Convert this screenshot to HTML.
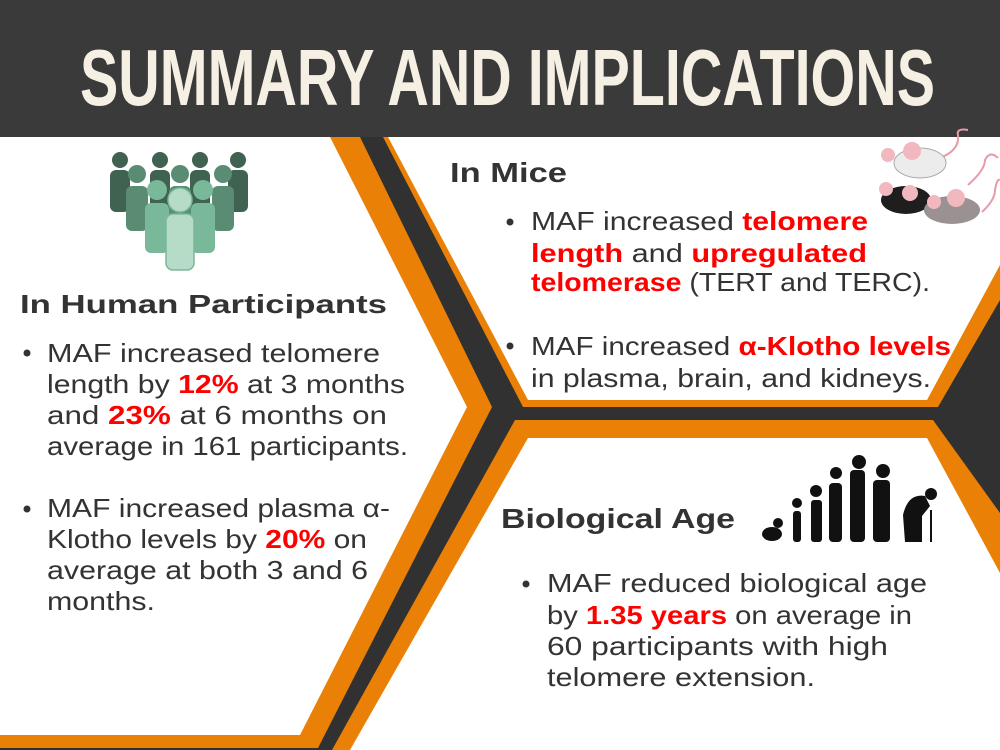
<!DOCTYPE html>
<html><head><meta charset="utf-8"><style>
html,body{margin:0;padding:0;width:1000px;height:750px;overflow:hidden;background:#fff}
svg{display:block}
.t{font-family:"Liberation Sans",sans-serif;fill:#333;font-size:26px}
.h{font-family:"Liberation Sans",sans-serif;fill:#333;font-weight:bold;font-size:28px}
.r{fill:#f00;font-weight:bold}
</style></head><body>
<svg width="1000" height="750" viewBox="0 0 1000 750" xmlns="http://www.w3.org/2000/svg">
<rect width="1000" height="750" fill="#313131"/>
<rect width="1000" height="137" fill="#3a3a3a"/>
<!-- orange -->
<polygon points="0,137 360,137 492,407 318,748 0,748" fill="#ea8006"/>
<polygon points="383,137 1000,137 1000,300 938,407 523,407" fill="#ea8006"/>
<polygon points="515,420 933,420 1000,513 1000,750 332,750" fill="#ea8006"/>
<!-- white -->
<polygon points="0,137 330,137 467,407 300,735 0,735" fill="#fff"/>
<polygon points="388,137 1000,137 1000,265 927,400 528,400" fill="#fff"/>
<polygon points="528,438 927,438 1000,573 1000,750 350,750" fill="#fff"/>
<!-- title -->
<text x="80" y="105" textLength="855" lengthAdjust="spacingAndGlyphs" style="font-family:'Liberation Sans Narrow','Liberation Sans',sans-serif;font-weight:bold;font-size:80px;fill:#f6f0e4">SUMMARY AND IMPLICATIONS</text>
<!-- people -->
<g>
<g fill="#3f6350">
<circle cx="120" cy="160" r="8"/><rect x="110" y="170" width="20" height="42" rx="6"/>
<circle cx="160" cy="160" r="8"/><rect x="150" y="170" width="20" height="42" rx="6"/>
<circle cx="200" cy="160" r="8"/><rect x="190" y="170" width="20" height="42" rx="6"/>
<circle cx="238" cy="160" r="8"/><rect x="228" y="170" width="20" height="42" rx="6"/>
</g>
<g fill="#5a8c73">
<circle cx="137" cy="174" r="9"/><rect x="126" y="186" width="22" height="45" rx="6"/>
<circle cx="180" cy="174" r="9"/><rect x="169" y="186" width="22" height="45" rx="6"/>
<circle cx="223" cy="174" r="9"/><rect x="212" y="186" width="22" height="45" rx="6"/>
</g>
<g fill="#7ab89a">
<circle cx="157" cy="190" r="10"/><rect x="145" y="203" width="24" height="50" rx="6"/>
<circle cx="203" cy="190" r="10"/><rect x="191" y="203" width="24" height="50" rx="6"/>
</g>
<g fill="#b6dcc8" stroke="#7ab89a" stroke-width="1.5">
<circle cx="180" cy="200" r="12"/><rect x="166" y="214" width="28" height="56" rx="7"/>
</g>
</g>
<!-- mice -->
<g>
<path d="M940 158 Q960 150 958 135 Q956 128 968 130 M968 185 Q985 170 985 160 Q990 150 998 158 M982 212 Q995 200 995 190 Q997 178 1000 180" stroke="#e89aa8" stroke-width="2" fill="none"/>
<ellipse cx="920" cy="163" rx="26" ry="15" fill="#ececec" stroke="#aaa" stroke-width="1"/><circle cx="888" cy="155" r="7" fill="#f2b8c0"/><circle cx="912" cy="151" r="9" fill="#f2b8c0"/>
<ellipse cx="906" cy="200" rx="25" ry="14" fill="#1e1e1e"/><circle cx="886" cy="189" r="7" fill="#f2b8c0"/><circle cx="910" cy="193" r="8" fill="#f2b8c0"/>
<ellipse cx="952" cy="210" rx="28" ry="14" fill="#9a9292"/><circle cx="934" cy="202" r="7" fill="#f2b8c0"/><circle cx="956" cy="198" r="9" fill="#f2b8c0"/>
</g>
<!-- silhouettes -->
<g fill="#111">
<ellipse cx="772" cy="534" rx="10" ry="7"/><circle cx="778" cy="523" r="5"/>
<rect x="793" y="511" width="8" height="31" rx="3"/><circle cx="797" cy="503" r="5"/>
<rect x="811" y="500" width="11" height="42" rx="3"/><circle cx="816" cy="491" r="6"/>
<rect x="829" y="483" width="13" height="59" rx="4"/><circle cx="836" cy="473" r="6"/>
<rect x="850" y="470" width="15" height="72" rx="4"/><circle cx="859" cy="462" r="7"/>
<rect x="873" y="480" width="17" height="62" rx="4"/><circle cx="883" cy="471" r="7"/>
<path d="M903 515 Q908 493 925 496 L930 506 L922 516 L922 542 L905 542 Z"/><circle cx="931" cy="494" r="6"/>
<rect x="930" y="510" width="2" height="32"/>
</g>
<!-- left -->
<text class="h" x="20" y="313" textLength="367" lengthAdjust="spacingAndGlyphs" style="font-size:26px">In Human Participants</text>
<circle cx="27" cy="353" r="3.5" fill="#333"/>
<text class="t" x="47" y="362" textLength="333" lengthAdjust="spacingAndGlyphs">MAF increased telomere</text>
<text class="t" x="47" y="393" textLength="358" lengthAdjust="spacingAndGlyphs">length by <tspan class="r">12%</tspan> at 3 months</text>
<text class="t" x="47" y="424" textLength="340" lengthAdjust="spacingAndGlyphs">and <tspan class="r">23%</tspan> at 6 months on</text>
<text class="t" x="47" y="455" textLength="361" lengthAdjust="spacingAndGlyphs">average in 161 participants.</text>
<circle cx="27" cy="509" r="3.5" fill="#333"/>
<text class="t" x="47" y="517" textLength="343" lengthAdjust="spacingAndGlyphs">MAF increased plasma α-</text>
<text class="t" x="47" y="548" textLength="320" lengthAdjust="spacingAndGlyphs">Klotho levels by <tspan class="r">20%</tspan> on</text>
<text class="t" x="47" y="579" textLength="321" lengthAdjust="spacingAndGlyphs">average at both 3 and 6</text>
<text class="t" x="47" y="610" textLength="108" lengthAdjust="spacingAndGlyphs">months.</text>
<!-- mice text -->
<text class="h" x="450" y="182" textLength="117" lengthAdjust="spacingAndGlyphs">In Mice</text>
<circle cx="510" cy="222" r="3.5" fill="#333"/>
<text class="t" x="531" y="230" textLength="337" lengthAdjust="spacingAndGlyphs">MAF increased <tspan class="r">telomere</tspan></text>
<text class="t" x="531" y="262" textLength="336" lengthAdjust="spacingAndGlyphs"><tspan class="r">length</tspan> and <tspan class="r">upregulated</tspan></text>
<text class="t" x="531" y="291" textLength="399" lengthAdjust="spacingAndGlyphs"><tspan class="r">telomerase</tspan> (TERT and TERC).</text>
<circle cx="510" cy="346" r="3.5" fill="#333"/>
<text class="t" x="531" y="355" textLength="420" lengthAdjust="spacingAndGlyphs">MAF increased <tspan class="r">α-Klotho levels</tspan></text>
<text class="t" x="531" y="387" textLength="400" lengthAdjust="spacingAndGlyphs">in plasma, brain, and kidneys.</text>
<!-- bio age -->
<text class="h" x="501" y="528" textLength="234" lengthAdjust="spacingAndGlyphs">Biological Age</text>
<circle cx="526" cy="584" r="3.5" fill="#333"/>
<text class="t" x="547" y="592" textLength="380" lengthAdjust="spacingAndGlyphs">MAF reduced biological age</text>
<text class="t" x="547" y="624" textLength="365" lengthAdjust="spacingAndGlyphs">by <tspan class="r">1.35 years</tspan> on average in</text>
<text class="t" x="547" y="655" textLength="341" lengthAdjust="spacingAndGlyphs">60 participants with high</text>
<text class="t" x="547" y="686" textLength="268" lengthAdjust="spacingAndGlyphs">telomere extension.</text>
</svg>
</body></html>
